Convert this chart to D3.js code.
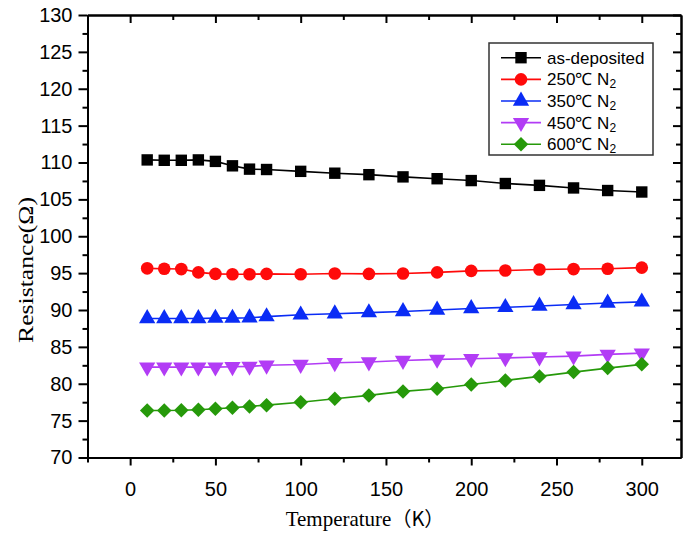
<!DOCTYPE html>
<html>
<head>
<meta charset="utf-8">
<script src="https://cdn.jsdelivr.net/npm/d3@7"></script>
<style>
html,body{margin:0;padding:0;background:#fff;}
</style>
</head>
<body>
<svg id="chart" width="685" height="533"></svg>
<script>
const temperatures = [10,20,30,40,50,60,70,80,100,120,140,160,180,200,220,240,260,280,300];
const asDeposited = [110.35,110.3,110.3,110.35,110.15,109.55,109.1,109.05,108.8,108.55,108.35,108.05,107.8,107.55,107.15,106.9,106.55,106.2,106.0];
const n2_250 = [95.65,95.6,95.55,95.1,94.9,94.85,94.85,94.9,94.85,94.95,94.9,94.95,95.1,95.3,95.35,95.5,95.55,95.6,95.75];
const n2_350 = [88.85,88.85,88.85,88.85,88.9,88.9,88.95,89.1,89.35,89.5,89.65,89.8,90.0,90.2,90.35,90.55,90.75,90.95,91.1];
const n2_450 = [82.25,82.25,82.25,82.25,82.25,82.3,82.35,82.5,82.6,82.85,82.95,83.15,83.3,83.4,83.5,83.62,83.75,83.98,84.15];
const n2_600 = [76.38,76.38,76.4,76.48,76.6,76.75,76.93,77.1,77.5,77.97,78.42,78.96,79.33,79.9,80.45,81.0,81.58,82.12,82.63];
const seriesNames = ["as-deposited","250℃ N","350℃ N","450℃ N","600℃ N"];
const xTicks = [0,50,100,150,200,250,300];
const yTicks = [70,75,80,85,90,95,100,105,110,115,120,125,130];

const series = [
  {name: seriesNames[0], sub: "", values: asDeposited, color: "#000000", shape: "square"},
  {name: seriesNames[1], sub: "2", values: n2_250, color: "#ff0a0a", shape: "circle"},
  {name: seriesNames[2], sub: "2", values: n2_350, color: "#0a2cf5", shape: "up"},
  {name: seriesNames[3], sub: "2", values: n2_450, color: "#b23cf5", shape: "down"},
  {name: seriesNames[4], sub: "2", values: n2_600, color: "#26990a", shape: "diamond"}
];

const svg = d3.select("#chart");
const L = 87.5, R = 681, T = 15, B = 457.5;
const x = d3.scaleLinear().domain([-25, 323]).range([L, R]);
const y = d3.scaleLinear().domain([70, 130]).range([B, T]);

const sansFont = "'Liberation Sans', Arial, sans-serif";
const serifFont = "'Liberation Serif', 'Times New Roman', serif";

const xMinor = d3.range(-25, 325, 25).filter(v => v % 50 !== 0);
const yMinor = d3.range(72.5, 130, 5);

const gB = svg.append("g").attr("transform", `translate(0,${B})`);
gB.call(d3.axisBottom(x).tickValues(xTicks).tickSize(8).tickSizeOuter(0).tickPadding(16));
gB.append("g").call(d3.axisBottom(x).tickValues(xMinor).tickSize(5).tickFormat("").tickSizeOuter(0));
const gL = svg.append("g").attr("transform", `translate(${L},0)`);
gL.call(d3.axisLeft(y).tickValues(yTicks).tickSize(9).tickSizeOuter(0).tickPadding(6));
gL.append("g").call(d3.axisLeft(y).tickValues(yMinor).tickSize(5).tickFormat("").tickSizeOuter(0));
const gT = svg.append("g").attr("transform", `translate(0,${T})`);
gT.call(d3.axisTop(x).tickValues(xTicks).tickSize(-8).tickFormat("").tickSizeOuter(0));
gT.append("g").call(d3.axisTop(x).tickValues(xMinor).tickSize(-5).tickFormat("").tickSizeOuter(0));
const gR = svg.append("g").attr("transform", `translate(${R},0)`);
gR.call(d3.axisRight(y).tickValues(yTicks).tickSize(-8).tickFormat("").tickSizeOuter(0));
gR.append("g").call(d3.axisRight(y).tickValues(yMinor).tickSize(-5).tickFormat("").tickSizeOuter(0));

svg.selectAll(".domain").attr("stroke", "#000").attr("stroke-width", 2);
svg.selectAll(".tick line").attr("stroke", "#000").attr("stroke-width", 2);
svg.selectAll(".tick text").attr("font-family", sansFont).attr("font-size", 20).attr("fill", "#000");

svg.append("text")
  .attr("transform", `translate(33,270) rotate(-90)`)
  .attr("text-anchor", "middle")
  .attr("font-family", serifFont)
  .attr("font-size", 20)
  .attr("textLength", 146)
  .attr("lengthAdjust", "spacingAndGlyphs")
  .text("Resistance(Ω)");

const xt = svg.append("text")
  .attr("x", 365).attr("y", 526)
  .attr("text-anchor", "middle")
  .attr("font-family", serifFont)
  .attr("font-size", 21);
xt.append("tspan").text("Temperature");
xt.append("tspan").attr("font-family", "'Noto Sans CJK SC', sans-serif").attr("font-size", 20).text("（K）");

function symbolFor(shape) {
  switch (shape) {
    case "square": return d3.symbol().type(d3.symbolSquare).size(130)();
    case "circle": return d3.symbol().type(d3.symbolCircle).size(125)();
    case "up": return d3.symbol().type(d3.symbolTriangle).size(115)();
    case "down": return d3.symbol().type(d3.symbolTriangle).size(115)();
    case "diamond": return d3.symbol().type(d3.symbolSquare).size(105)();
  }
}
function rot(shape) {
  if (shape === "down") return " rotate(180)";
  if (shape === "diamond") return " rotate(45)";
  return "";
}

const line = d3.line().x((d, i) => x(temperatures[i])).y(d => y(d));
const plot = svg.append("g");
series.forEach(s => {
  plot.append("path").datum(s.values)
    .attr("d", line).attr("fill", "none")
    .attr("stroke", s.color).attr("stroke-width", 1.6);
  plot.selectAll(null).data(s.values).enter().append("path")
    .attr("d", symbolFor(s.shape))
    .attr("transform", (d, i) => `translate(${x(temperatures[i])},${y(d)})${rot(s.shape)}`)
    .attr("fill", s.color);
});

const lg = svg.append("g");
lg.append("rect").attr("x", 489).attr("y", 43).attr("width", 164).attr("height", 112)
  .attr("fill", "#fff").attr("stroke", "#333").attr("stroke-width", 1.5);
series.forEach((s, i) => {
  const cy = 57.7 + i * 21.65;
  lg.append("line").attr("x1", 501).attr("x2", 541).attr("y1", cy).attr("y2", cy)
    .attr("stroke", s.color).attr("stroke-width", 1.6);
  lg.append("path").attr("d", symbolFor(s.shape))
    .attr("transform", `translate(521,${cy})${rot(s.shape)}`).attr("fill", s.color);
  const t = lg.append("text").attr("x", 547).attr("y", cy + 6)
    .attr("font-family", sansFont).attr("font-size", 17).attr("fill", "#000");
  t.append("tspan").text(s.name);
  if (s.sub) t.append("tspan").attr("font-size", 12).attr("dy", 3).text(s.sub);
});
</script>
</body>
</html>
